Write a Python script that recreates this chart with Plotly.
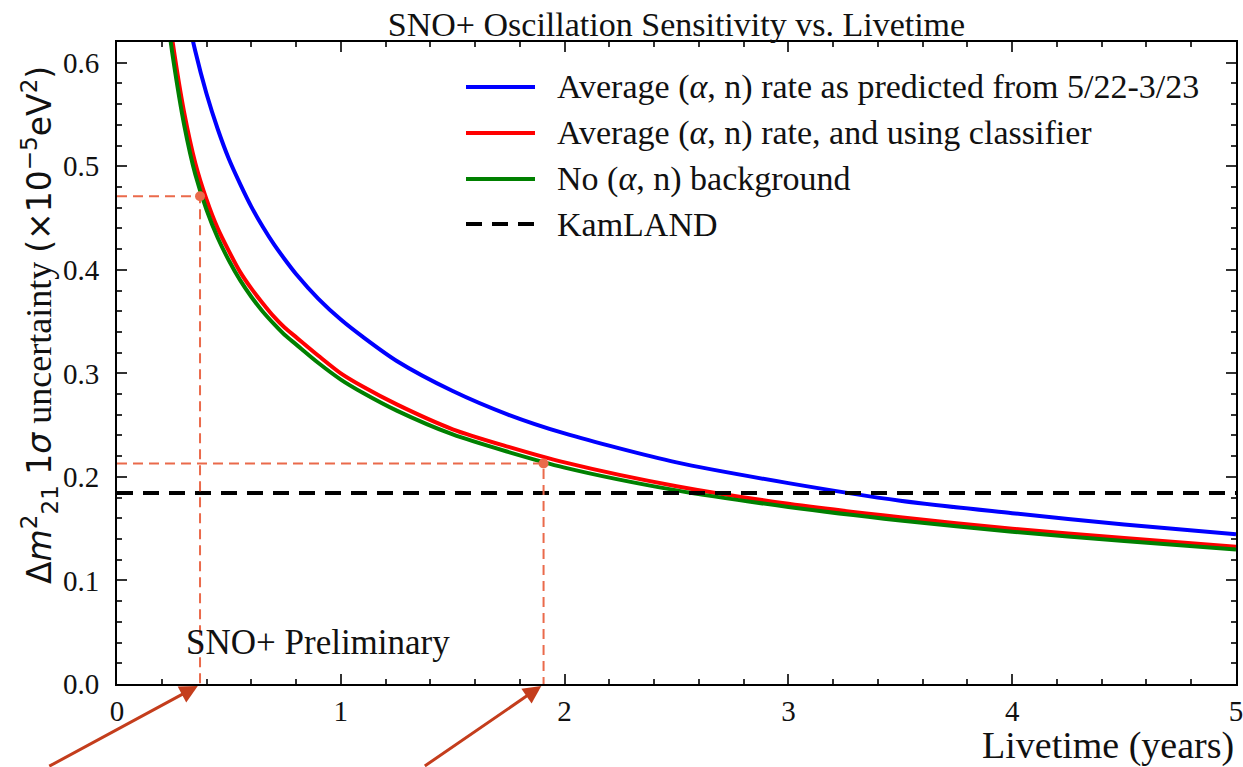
import plotly.graph_objects as go

# ---- data ----
livetime = [0.2, 0.25, 0.3, 0.35, 0.4, 0.45, 0.5, 0.55, 0.6, 0.65, 0.7, 0.75, 0.8, 0.9, 1.0, 1.1, 1.25, 1.5, 1.75, 2.0, 2.5, 3.0, 3.5, 4.0, 4.5, 5.0]
blue_predicted = [0.815, 0.727, 0.662, 0.611, 0.570, 0.536, 0.507, 0.483, 0.461, 0.442, 0.425, 0.410, 0.396, 0.372, 0.352, 0.335, 0.312, 0.283, 0.260, 0.242, 0.214, 0.194, 0.177, 0.165, 0.154, 0.1447]
red_classifier = [0.700, 0.618, 0.552, 0.503, 0.468, 0.440, 0.418, 0.398, 0.382, 0.368, 0.355, 0.344, 0.335, 0.317, 0.300, 0.287, 0.270, 0.246, 0.229, 0.214, 0.191, 0.174, 0.161, 0.150, 0.141, 0.1325]
green_no_bkg = [0.685, 0.605, 0.540, 0.492, 0.458, 0.431, 0.409, 0.390, 0.374, 0.360, 0.348, 0.337, 0.328, 0.310, 0.294, 0.281, 0.264, 0.241, 0.224, 0.209, 0.187, 0.171, 0.158, 0.147, 0.138, 0.130]
kamland_x = [0.0, 5.0]
kamland_y = [0.1845, 0.1845]
marker_x = [0.371, 1.906]
marker_y = [0.471, 0.213]

series_names = [
    "Average (<i>α</i>, n) rate as predicted from 5/22-3/23",
    "Average (<i>α</i>, n) rate, and using classifier",
    "No (<i>α</i>, n) background",
    "KamLAND",
]
series_colors = ["#0000FF", "#FF0000", "#008000", "black"]
series_dash = ["solid", "solid", "solid", "16px,10px"]

SERIF = "Liberation Serif, Times New Roman, serif"
SANS = "DejaVu Sans"
GUIDE = "#EA6A4B"
ARROW = "#C43D1C"

fig = go.Figure()
for ys, col, nm in zip([blue_predicted, red_classifier, green_no_bkg], series_colors[:3], series_names[:3]):
    fig.add_trace(go.Scatter(x=livetime, y=ys, mode="lines", name=nm,
                             line=dict(color=col, width=4, shape="spline", smoothing=0.8),
                             showlegend=False))
fig.add_trace(go.Scatter(x=kamland_x, y=kamland_y, mode="lines", name=series_names[3],
                         line=dict(color="black", width=4, dash=series_dash[3]), showlegend=False))

# guide lines to the two marked points
for mx, my in zip(marker_x, marker_y):
    fig.add_trace(go.Scatter(x=[0, mx, mx], y=[my, my, 0], mode="lines",
                             line=dict(color=GUIDE, width=2, dash="10px,6px"),
                             showlegend=False, hoverinfo="skip"))
fig.add_trace(go.Scatter(x=marker_x, y=marker_y, mode="markers",
                         marker=dict(color=GUIDE, size=10), showlegend=False, cliponaxis=False))

# arrows pointing at the marked livetimes (outside the axes)
for mx, axo, ayo in zip(marker_x, [-150, -118], [86, 84]):
    fig.add_annotation(x=mx - 0.01, y=-0.003, xref="x", yref="paper", text="", showarrow=True,
                       ax=axo, ay=ayo, arrowhead=2, arrowsize=1.2, arrowwidth=3,
                       arrowcolor=ARROW, standoff=0)

# manual legend (long line samples as in the reference)
plot_l, plot_w, plot_t, plot_h = 117, 1119, 42, 642
def px2paper_x(px):
    return (px - plot_l) / plot_w
def px2paper_y(py):
    return (plot_t + plot_h - py) / plot_h
legend_rows = [87, 133, 179, 224]
for nm, col, ds, row in zip(series_names, series_colors, series_dash, legend_rows):
    yy = px2paper_y(row)
    fig.add_shape(type="line", xref="paper", yref="paper",
                  x0=px2paper_x(466), x1=px2paper_x(535), y0=yy, y1=yy,
                  line=dict(color=col, width=4, dash=ds if ds != "solid" else None))
    fig.add_annotation(x=px2paper_x(555), y=yy, xref="paper", yref="paper", text=nm,
                       showarrow=False, xanchor="left", yanchor="middle",
                       font=dict(family=SERIF, size=34, color="#111"))

fig.add_annotation(x=0.3, y=0.04, xref="x", yref="y", text="SNO+ Preliminary",
                   showarrow=False, xanchor="left", yanchor="middle",
                   font=dict(family=SERIF, size=35, color="#111"))
fig.add_annotation(x=1.0, y=px2paper_y(746), xref="paper", yref="paper", text="Livetime (years)",
                   showarrow=False, xanchor="right", yanchor="middle",
                   font=dict(family=SERIF, size=38, color="#111"))

ylab = (f"<span style='font-family:{SANS};font-size:33px'>Δ<i>m</i><sup>2</sup><sub>21</sub> 1<i>σ</i></span>"
        f"<span style='font-family:{SERIF};font-size:36px'> uncertainty </span>"
        f"<span style='font-family:{SANS};font-size:33px'>(×10<sup>−5</sup>eV<sup>2</sup>)</span>")
fig.add_annotation(x=px2paper_x(39), y=px2paper_y(325), xref="paper", yref="paper", text=ylab,
                   showarrow=False, textangle=-90, xanchor="center", yanchor="middle",
                   font=dict(family=SERIF, size=35, color="#111"))

axis_common = dict(showline=True, linecolor="black", linewidth=2, mirror="ticks",
                   ticks="inside", ticklen=10, tickwidth=1.5, tickcolor="#333",
                   showgrid=False, zeroline=False, automargin=False,
                   ticklabeloverflow="allow",
                   tickfont=dict(family=SERIF, size=29, color="#111"))

fig.update_xaxes(range=[0, 5], dtick=1, tick0=0,
                 minor=dict(dtick=0.2, ticks="inside", ticklen=5, tickcolor="#333", showgrid=False),
                 **axis_common)
fig.update_yaxes(range=[0, 0.62], dtick=0.1, tick0=0, tickformat=".1f", ticklabelstandoff=10,
                 minor=dict(dtick=0.02, ticks="inside", ticklen=5, tickcolor="#333", showgrid=False),
                 **axis_common)

fig.update_layout(
    width=1243, height=767,
    margin=dict(l=117, r=7, t=42, b=83),
    paper_bgcolor="white", plot_bgcolor="white",
    title=dict(text="SNO+ Oscillation Sensitivity vs. Livetime", x=0.5,
               xref="paper", y=1 - 24 / 767, yref="container", yanchor="middle",
               font=dict(family=SERIF, size=34, color="#111")),
    showlegend=False,
)

fig.write_html("out.html", config={"displayModeBar": False},
               post_script="document.body.style.margin='0px';document.body.style.overflow='hidden';")
